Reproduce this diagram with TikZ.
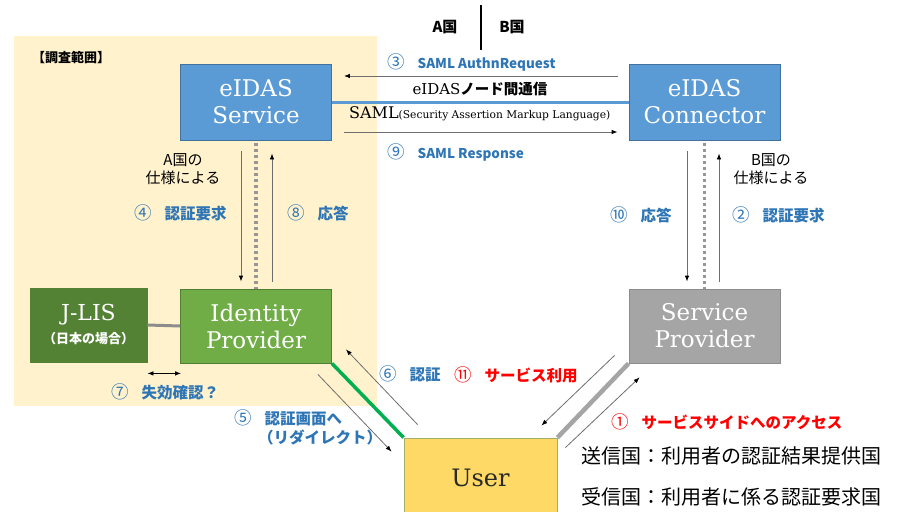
\documentclass[tikz,border=0pt]{standalone}
\usepackage{fontspec}
\setmainfont{DejaVu Serif}
\newfontfamily\jp{Noto Sans CJK JP}
\usetikzlibrary{arrows.meta,calc}
\definecolor{bgbeige}{RGB}{255,242,204}
\definecolor{eblue}{RGB}{91,155,213}
\definecolor{eblueedge}{RGB}{65,113,156}
\definecolor{idgreen}{RGB}{112,173,71}
\definecolor{idgreenedge}{RGB}{80,126,50}
\definecolor{jgreen}{RGB}{84,130,53}
\definecolor{spgray}{RGB}{165,165,165}
\definecolor{spgrayedge}{RGB}{140,140,140}
\definecolor{uyellow}{RGB}{255,217,102}
\definecolor{uedge}{RGB}{160,175,100}
\definecolor{lblue}{RGB}{46,117,182}
\definecolor{lred}{RGB}{255,0,0}
\definecolor{wire}{RGB}{110,110,110}
\definecolor{linkgreen}{RGB}{0,176,80}
\definecolor{dotgray}{RGB}{150,150,150}
% circled step numbers, a little larger and lighter than the label text
\newcommand{\circnum}[1]{{\mdseries\fontsize{17.5}{18}\selectfont #1}\hspace{13pt}}
\begin{document}
\begin{tikzpicture}[x=1pt,y=-1pt,
  box/.style={draw, line width=0.8pt, minimum width=151pt, minimum height=76pt,
    inner sep=0pt, align=center, text=white,
    font=\fontsize{23}{27}\selectfont},
  msg/.style={draw=wire, line width=0.8pt,
    -{Latex[length=6pt,width=4.5pt,color=black]}},
  dotlink/.style={draw=dotgray, line width=3.2pt, dash pattern=on 3pt off 3pt},
  lbl/.style={inner sep=0pt, anchor=west, font=\jp\bfseries\fontsize{15.5}{18}\selectfont},
  samllbl/.style={lbl, font=\jp\bfseries\fontsize{13.5}{18}\selectfont},
  note/.style={inner sep=0pt, align=center, font=\jp\fontsize{15}{18}\selectfont},
]
\clip (0,0) rectangle (909,511);
\useasboundingbox (0,0) rectangle (909,511);
\fill[white] (0,0) rectangle (909,511);

% area under investigation
\fill[bgbeige] (14,36) rectangle (377,406);
\node[inner sep=0pt, anchor=west, font=\jp\bfseries\fontsize{13}{16}\selectfont] (scope) at (32,58) {【調査範囲】};

% country border
\coordinate (bordertop) at (481,5);
\coordinate (borderbot) at (481,50);
\draw[line width=1.6pt] (bordertop) -- (borderbot);
\node[note, font=\jp\bfseries\fontsize{15}{18}\selectfont] (cA) at (445,27) {A国};
\node[note, font=\jp\bfseries\fontsize{15}{18}\selectfont] (cB) at (512,27) {B国};

% boxes
\node[box, fill=eblue, draw=eblueedge] (esvc) at (256,102) {eIDAS\\Service};
\node[box, fill=eblue, draw=eblueedge] (econ) at (704.5,102) {eIDAS\\Connector};
\node[box, fill=idgreen, draw=idgreenedge, minimum height=74pt] (idp) at (256,326) {Identity\\Provider};
\node[box, fill=jgreen, draw=jgreen, minimum width=117pt, minimum height=74pt,
  font=\fontsize{22}{27}\selectfont] (jlis) at (88.5,325)
  {J-LIS\\[-4pt]{\jp\bfseries\fontsize{13}{16}\selectfont （日本の場合）}};
\node[box, fill=spgray, draw=spgrayedge, minimum height=74pt] (sp) at (704.5,326) {Service\\Provider};
\node[box, fill=uyellow, draw=uedge, minimum width=153pt, minimum height=80pt,
  text={rgb,255:red,40;green,40;blue,40}, font=\fontsize{24}{28}\selectfont] (user) at (480.5,478) {User};

% eIDAS node-to-node link
\draw[eblue, line width=3pt] (esvc.east) -- (econ.west);
\draw[msg, shorten <=11pt, shorten >=12pt] ([yshift=26pt]econ.west) -- ([yshift=26pt]esvc.east);
\draw[msg, shorten <=12pt, shorten >=11pt] ([yshift=-30pt]esvc.east) -- ([yshift=-30pt]econ.west);
\node[samllbl, text=lblue] (m3) at (387,62) {\circnum{③}SAML AuthnRequest};
\node[samllbl, text=lblue] (m9) at (387,152) {\circnum{⑨}SAML Response};
\node[inner sep=0pt, font=\fontsize{15}{18}\selectfont] (nodecomm) at (480,89)
  {eIDAS{\jp\bfseries\fontsize{14.5}{18}\selectfont ノード間通信}};
\node[inner sep=0pt, anchor=west, font=\fontsize{16}{18}\selectfont] (saml) at (349,114)
  {SAML{\fontsize{10.7}{12}\selectfont (Security Assertion Markup Language)}};

% A side: eIDAS Service <-> Identity Provider
\draw[dotlink, shorten <=3pt] (esvc.south) -- (idp.north);
\draw[msg, shorten <=11pt, shorten >=7pt] ([xshift=-15pt]esvc.south) -- ([xshift=-15pt]idp.north);
\draw[msg, shorten <=7pt, shorten >=13pt] ([xshift=16pt]idp.north) -- ([xshift=16pt]esvc.south);
\node[note] (specA) at (183,169) {A国の\\仕様による};
\node[lbl, text=lblue] (m4) at (134,213) {\circnum{④}認証要求};
\node[lbl, text=lblue] (m8) at (287,213) {\circnum{⑧}応答};

% B side: eIDAS Connector <-> Service Provider
\draw[dotlink, shorten <=3pt] (econ.south) -- (sp.north);
\draw[msg, shorten <=11pt, shorten >=7pt] ([xshift=-17.5pt]econ.south) -- ([xshift=-17.5pt]sp.north);
\draw[msg, shorten <=7pt, shorten >=13pt] ([xshift=14.5pt]sp.north) -- ([xshift=14.5pt]econ.south);
\node[note] (specB) at (771,169) {B国の\\仕様による};
\node[lbl, text=lblue] (m10) at (610,215) {\circnum{⑩}応答};
\node[lbl, text=lblue] (m2) at (732,215) {\circnum{②}認証要求};

% J-LIS <-> Identity Provider
\draw[spgrayedge, line width=3pt] (jlis.east) -- (idp.west);
\draw[line width=0.8pt, {Latex[length=6pt,width=4.5pt]}-{Latex[length=6pt,width=4.5pt]}]
  ($(jlis.south east)+(0,11)$) -- ($(idp.south west)+(1,10)$);
\node[lbl, text=lblue] (m7) at (111,392) {\circnum{⑦}失効確認？};

% User <-> Identity Provider
\draw[linkgreen, line width=3.5pt] (idp.south east) -- (user.north west);
\draw[msg] ($(idp.south east)+(-14,11)$) -- ($(user.north west)+(-12,14)$);
\draw[msg] ($(user.north west)+(14,-13)$) -- ($(idp.south east)+(14,-14)$);
\node[lbl, text=lblue] (m5) at (234,418) {\circnum{⑤}認証画面へ};
\node[lbl, text=lblue] (m5b) at (258,437) {（リダイレクト）};
\node[lbl, text=lblue] (m6) at (379,374) {\circnum{⑥}認証};
\node[lbl, text=lred] (m11) at (454,375) {\circnum{⑪}サービス利用};

% User <-> Service Provider
\draw[spgray, line width=4.5pt] (user.north east) -- (sp.south west);
\draw[msg] ($(sp.south west)+(-14,-8)$) -- ($(user.north east)+(-16,-12)$);
\draw[msg] ($(user.north east)+(8,10)$) -- ($(sp.south west)+(11,14)$);
\node[lbl, text=lred] (m1) at (611,422) {\circnum{①}サービスサイドへのアクセス};

% legend
\node[inner sep=0pt, anchor=west, font=\jp\fontsize{20}{24}\selectfont] (send) at (581,456) {送信国：利用者の認証結果提供国};
\node[inner sep=0pt, anchor=west, font=\jp\fontsize{20}{24}\selectfont] (recv) at (581,497) {受信国：利用者に係る認証要求国};
\end{tikzpicture}
\end{document}
